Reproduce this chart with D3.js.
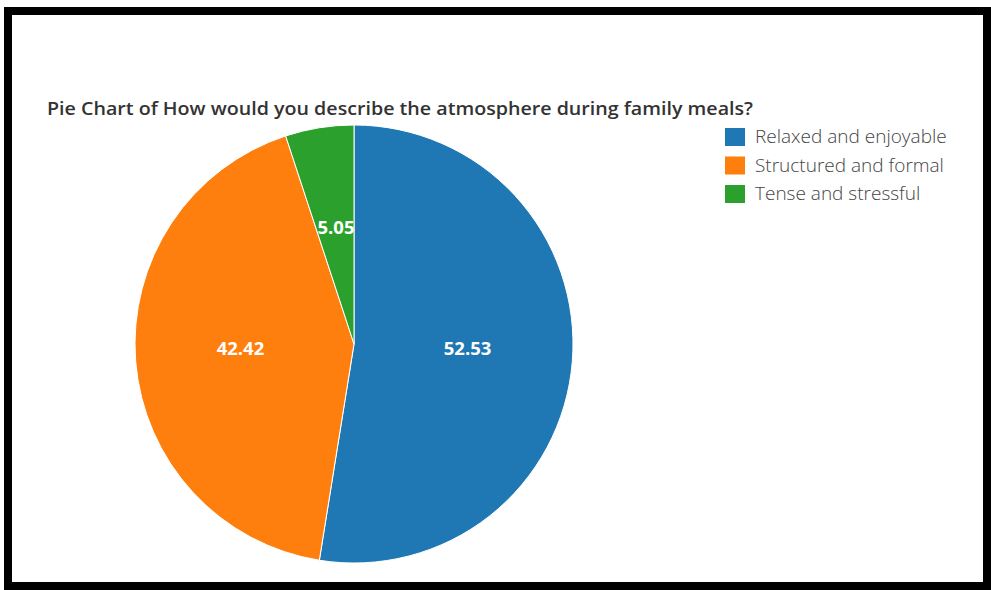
<!DOCTYPE html>
<html>
<head>
<meta charset="utf-8">
<script src="https://cdn.jsdelivr.net/npm/d3@7"></script>
<style>
  body { margin: 0; background: #fff; }
  svg { display: block; }
</style>
</head>
<body>
<div class="chart"></div>
<script>
var w = 991;
var h = 590;

// data
var categories = ["Relaxed and enjoyable", "Structured and formal", "Tense and stressful"];
var values = [52.53, 42.42, 5.05];
var colors = ["#1f77b4", "#ff7f0e", "#2ca02c"];
var title = "Pie Chart of How would you describe the atmosphere during family meals?";

var data = categories.map(function (c, i) {
  return { label: c, value: values[i] };
});

var svg = d3.select(".chart")
  .append("svg")
  .attr("width", w)
  .attr("height", h);

// frame round the screenshot
svg.append("rect")
  .attr("x", 8)
  .attr("y", 11)
  .attr("width", w - 12)
  .attr("height", h - 15)
  .attr("fill", "#fff")
  .attr("stroke", "#000")
  .attr("stroke-width", 8);

svg.append("text")
  .text(title)
  .attr("x", 47)
  .attr("y", 115)
  .attr("font-family", "'Open Sans', sans-serif")
  .attr("font-size", 18.5)
  .attr("font-weight", 600)
  .attr("textLength", 706)
  .attr("lengthAdjust", "spacingAndGlyphs")
  .attr("fill", "#333");

var cx = 354, cy = 344, radius = 219;

var colorScale = d3.scaleOrdinal()
  .domain(categories)
  .range(colors);

var pie = d3.pie()
  .sort(null)
  .value(function (d) { return d.value; });

var arc = d3.arc().innerRadius(0).outerRadius(radius);
var labelArc = d3.arc().innerRadius(radius * 0.52).outerRadius(radius * 0.52);

var g = svg.append("g")
  .attr("transform", "translate(" + cx + "," + cy + ")");

var slices = g.selectAll("g.slice")
  .data(pie(data))
  .enter()
  .append("g")
  .attr("class", "slice");

slices.append("path")
  .attr("d", arc)
  .attr("fill", function (d) { return colorScale(d.data.label); })
  .attr("stroke", "#fff")
  .attr("stroke-width", 1);

slices.append("text")
  .text(function (d) { return d.data.value.toFixed(2); })
  .attr("transform", function (d) { return "translate(" + labelArc.centroid(d) + ")"; })
  .attr("dy", "0.12em")
  .attr("text-anchor", "middle")
  .attr("font-family", "'Open Sans', sans-serif")
  .attr("font-size", 18.5)
  .attr("font-weight", 700)
  .attr("fill", "#fff");

// legend
var legend = svg.append("g")
  .attr("transform", "translate(725,128)");

var items = legend.selectAll("g")
  .data(categories)
  .enter()
  .append("g")
  .attr("transform", function (d, i) { return "translate(0," + (i * 28.5) + ")"; });

items.append("rect")
  .attr("x", 0)
  .attr("y", 0)
  .attr("width", 20)
  .attr("height", 18)
  .attr("fill", function (d) { return colorScale(d); });

items.append("text")
  .text(function (d) { return d; })
  .attr("x", 30)
  .attr("y", 15)
  .attr("font-family", "'Open Sans', sans-serif")
  .attr("font-size", 19)
  .attr("font-weight", 300)
  .attr("fill", "#444");
</script>
</body>
</html>
